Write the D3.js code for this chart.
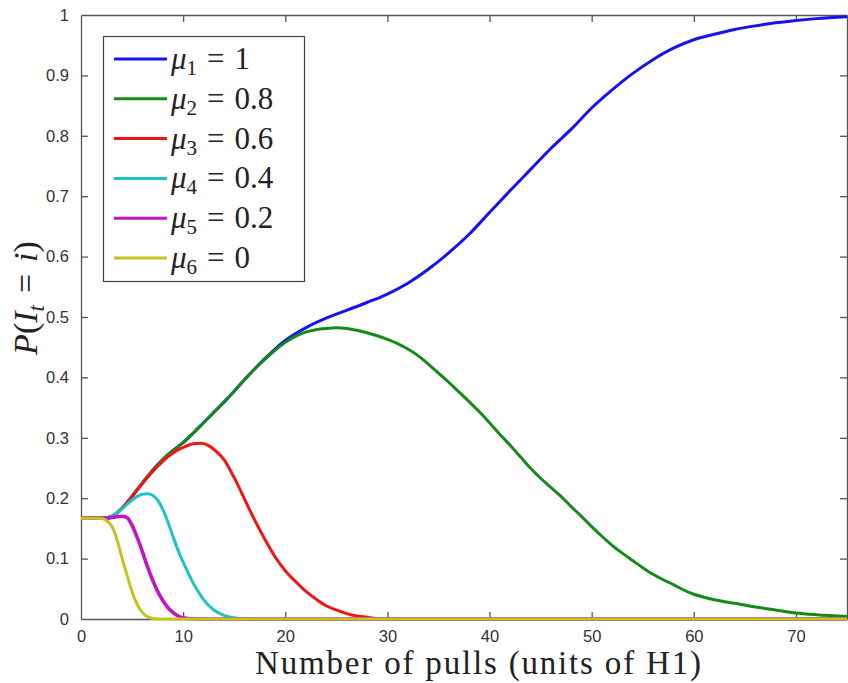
<!DOCTYPE html>
<html>
<head>
<meta charset="utf-8">
<script src="https://cdn.jsdelivr.net/npm/d3@7"></script>
<style>
  html, body { margin: 0; padding: 0; background: #fff; }
  svg { display: block; }
  .tick-label { font-family: "Liberation Sans", Arial, sans-serif; font-size: 16.5px; fill: #333; }
  .math { font-family: "Liberation Serif", "DejaVu Serif", serif; fill: #222; }
</style>
</head>
<body>
<div id="chart"></div>
<script>
// arm means (legend) and colours
const armLabels = ['1', '2', '3', '4', '5', '6'];
const armMeans = ['1', '0.8', '0.6', '0.4', '0.2', '0'];
const armColors = ['#1414f0', '#168a16', '#f21414', '#1cc4c4', '#c414c4', '#c4c41c'];

// P(I_t = i), as [pulls, probability]
const mu1 = [[0,0.1667],[2,0.1667],[3,0.170],[4,0.183],[5,0.203],[6,0.225],[7,0.246],[8,0.264],[9,0.279],
  [10,0.292],[11,0.308],[12,0.325],[13,0.342],[14,0.359],[15,0.377],[16,0.396],[17,0.414],[18,0.431],
  [19,0.447],[20,0.461],[22,0.482],[24,0.498],[26,0.511],[28,0.524],[30,0.538],[32,0.556],[34,0.579],
  [36,0.606],[38,0.637],[40,0.673],[42,0.709],[44,0.744],[46,0.779],[48,0.811],[50,0.846],[52,0.876],
  [54,0.903],[56,0.926],[58,0.945],[60,0.959],[62,0.968],[64,0.976],[66,0.982],[68,0.987],[70,0.991],
  [72,0.994],[75,0.997]];
const mu2 = [[0,0.1667],[2,0.1667],[3,0.170],[4,0.183],[5,0.203],[6,0.225],[7,0.246],[8,0.264],[9,0.279],
  [10,0.292],[11,0.308],[12,0.325],[13,0.342],[14,0.359],[15,0.377],[16,0.396],[17,0.414],[18,0.430],
  [19,0.445],[20,0.458],[21,0.468],[22,0.475],[23,0.479],[24,0.481],[25,0.482],[26,0.481],[27,0.478],
  [28,0.474],[29,0.469],[30,0.463],[31,0.456],[32,0.447],[33,0.436],[34,0.422],[35,0.407],[36,0.392],
  [37,0.376],[38,0.360],[39,0.343],[40,0.325],[41,0.306],[42,0.288],[43,0.269],[44,0.250],[45,0.233],
  [46,0.218],[47,0.203],[48,0.186],[49,0.170],[50,0.153],[51,0.137],[52,0.122],[53,0.109],[54,0.097],
  [55,0.085],[56,0.074],[57,0.065],[58,0.057],[59,0.048],[60,0.041],[61,0.036],[62,0.032],[64,0.026],
  [66,0.020],[68,0.015],[70,0.010],[72,0.007],[75,0.004]];
const mu3 = [[0,0.1667],[2,0.1667],[3,0.170],[4,0.183],[5,0.203],[6,0.224],[7,0.244],[8,0.261],[9,0.275],
  [10,0.284],[11,0.290],[11.8,0.291],[12.5,0.287],[13,0.281],[14,0.264],[15,0.234],[16,0.199],[17,0.164],
  [18,0.132],[19,0.103],[20,0.080],[21,0.062],[22,0.046],[23,0.033],[24,0.022],[25,0.015],[26,0.009],
  [27,0.005],[28,0.003],[29,0.001],[30,0.0003],[32,0],[75,0]];
const mu4 = [[0,0.1667],[2,0.1667],[3,0.170],[3.5,0.175],[4,0.182],[5,0.197],[5.5,0.203],[6,0.2065],
  [6.5,0.2075],[7,0.205],[7.5,0.197],[8,0.182],[8.5,0.161],[9,0.137],[9.5,0.114],[10,0.094],[10.5,0.076],
  [11,0.059],[11.5,0.045],[12,0.032],[13,0.015],[14,0.006],[15,0.002],[16,0.0003],[17,0],[75,0]];
const mu5 = [[0,0.1667],[2.5,0.1667],[3,0.168],[4,0.170],[4.5,0.168],[5,0.155],[5.5,0.135],[6,0.112],
  [6.5,0.087],[7,0.065],[7.5,0.046],[8,0.031],[8.5,0.019],[9,0.011],[9.5,0.005],[10,0.002],[11,0.0003],
  [12,0],[75,0]];
const mu6 = [[0,0.1667],[2,0.1665],[2.5,0.163],[3,0.154],[3.5,0.133],[4,0.102],[4.5,0.073],[5,0.045],
  [5.5,0.024],[6,0.011],[6.5,0.004],[7,0.001],[8,0],[75,0]];
const series = [mu1, mu2, mu3, mu4, mu5, mu6];

const xTicks = [0, 10, 20, 30, 40, 50, 60, 70];
const yTicks = [0, 0.1, 0.2, 0.3, 0.4, 0.5, 0.6, 0.7, 0.8, 0.9, 1];
const yTickLabels = ['0', '0.1', '0.2', '0.3', '0.4', '0.5', '0.6', '0.7', '0.8', '0.9', '1'];

const W = 848, H = 683;
const m = {left: 81, right: 847, top: 15, bottom: 619};

const svg = d3.select('#chart').append('svg').attr('width', W).attr('height', H);

const x = d3.scaleLinear().domain([0, 75]).range([m.left, m.right]);
const y = d3.scaleLinear().domain([0, 1]).range([m.bottom, m.top]);

const axisColor = '#555';
const tickLen = 7;

// axes, box style with inward ticks
const bottomAx = svg.append('g').attr('transform', `translate(0,${m.bottom})`)
  .call(d3.axisBottom(x).tickValues(xTicks).tickSizeInner(-tickLen).tickSizeOuter(0).tickPadding(11));
const topAx = svg.append('g').attr('transform', `translate(0,${m.top})`)
  .call(d3.axisTop(x).tickValues(xTicks).tickSizeInner(-tickLen).tickSizeOuter(0).tickFormat(''));
const leftAx = svg.append('g').attr('transform', `translate(${m.left},0)`)
  .call(d3.axisLeft(y).tickValues(yTicks).tickSizeInner(-tickLen).tickSizeOuter(0).tickPadding(12)
    .tickFormat((d, i) => yTickLabels[i]));
const rightAx = svg.append('g').attr('transform', `translate(${m.right},0)`)
  .call(d3.axisRight(y).tickValues(yTicks).tickSizeInner(-tickLen).tickSizeOuter(0).tickFormat(''));

[bottomAx, topAx, leftAx, rightAx].forEach(g => {
  g.select('.domain').attr('stroke', axisColor).attr('stroke-width', 1.3);
  g.selectAll('.tick line').attr('stroke', axisColor).attr('stroke-width', 1.3);
  g.selectAll('.tick text').attr('class', 'tick-label').attr('fill', '#333');
});
bottomAx.selectAll('.tick').filter(d => d === 0).select('line').remove();
leftAx.selectAll('.tick').filter(d => d === 0 || d === 1).select('line').remove();
topAx.selectAll('.tick').filter(d => d === 0).select('line').remove();
rightAx.selectAll('.tick').filter(d => d === 0 || d === 1).select('line').remove();

// curves, drawn over the axis box
const line = d3.line().x(d => x(d[0])).y(d => y(d[1])).curve(d3.curveMonotoneX);
const plot = svg.append('g');
series.forEach((s, i) => {
  plot.append('path').datum(s)
    .attr('d', line)
    .attr('fill', 'none')
    .attr('stroke', armColors[i])
    .attr('stroke-width', i === 4 ? 3.6 : 3)
    .attr('stroke-linejoin', 'round');
});

// legend
const lg = svg.append('g');
lg.append('rect').attr('x', 103.5).attr('y', 36.5).attr('width', 201).attr('height', 245)
  .attr('fill', '#fff').attr('stroke', '#444').attr('stroke-width', 1.2);
armLabels.forEach((lab, i) => {
  const cy = 59 + i * 39.8;
  lg.append('line').attr('x1', 114).attr('x2', 167).attr('y1', cy).attr('y2', cy)
    .attr('stroke', armColors[i]).attr('stroke-width', 3);
  const t = lg.append('text').attr('class', 'math').attr('x', 171).attr('y', cy + 10)
    .attr('font-size', 31);
  t.append('tspan').attr('font-style', 'italic').text('μ');
  t.append('tspan').attr('font-size', 21).attr('dy', 6).text(lab);
  t.append('tspan').attr('dy', -6).attr('dx', 10).text('=');
  t.append('tspan').attr('dx', 10).text(armMeans[i]);
});

// axis titles
svg.append('text').attr('class', 'math')
  .attr('x', 478).attr('y', 674).attr('text-anchor', 'middle')
  .attr('font-size', 33)
  .attr('textLength', 446).attr('lengthAdjust', 'spacing')
  .text('Number of pulls (units of H1)');

const yl = svg.append('text').attr('class', 'math')
  .attr('transform', 'translate(37,298) rotate(-90)')
  .attr('text-anchor', 'middle').attr('font-size', 34);
yl.append('tspan').attr('font-style', 'italic').text('P');
yl.append('tspan').text('(');
yl.append('tspan').attr('font-style', 'italic').text('I');
yl.append('tspan').attr('font-style', 'italic').attr('font-size', 23).attr('dy', 7).text('t');
yl.append('tspan').attr('dy', -7).attr('dx', 12).text('=');
yl.append('tspan').attr('dx', 12).attr('font-style', 'italic').text('i');
yl.append('tspan').text(')');
</script>
</body>
</html>
